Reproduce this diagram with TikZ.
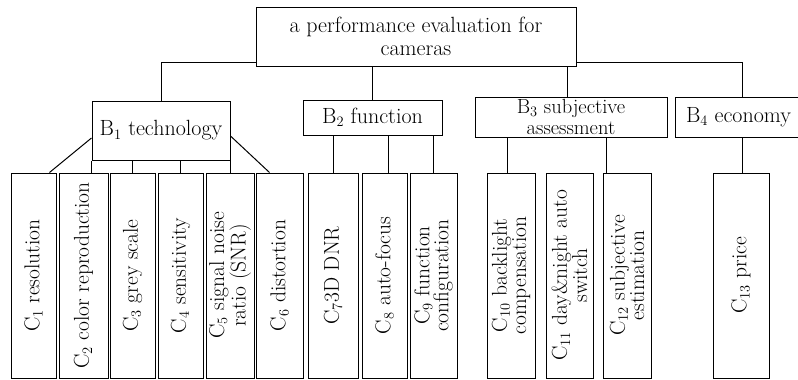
\documentclass[tikz,border=0pt]{standalone}
\usetikzlibrary{calc,positioning}
\usepackage{tikz}

\tikzset{
  box/.style={draw, line width=1pt, rectangle, inner sep=0pt, align=center, font=\fontsize{22}{22}\selectfont},
  cbox/.style={box, minimum height=205pt},
  ctext/.style={rotate=90, align=center, inner sep=0pt, font=\fontsize{21.5}{17.5}\selectfont}
}

\begin{document}
\begin{tikzpicture}[x=1pt, y=-1pt]
    \useasboundingbox (0,0) rectangle (798,380);
    \clip (0,0) rectangle (798,380);

    \node [box, minimum width=320pt, minimum height=59pt, font=\fontsize{22}{23}\selectfont] (top) at (416,36.5) {a performance evaluation for\\cameras};

    \node [box, minimum width=138pt, minimum height=59pt] (b1) at (161,130.5) {B$_1$ technology};
    \node [box, minimum width=139pt, minimum height=35pt] (b2) at (372.5,117.5) {B$_2$ function};
    \node [box, minimum width=192pt, minimum height=40pt, font=\fontsize{20.5}{21.5}\selectfont] (b3) at (571,117) {B$_3$ subjective\\assessment};
    \node [box, minimum width=127pt, minimum height=40pt] (b4) at (738.5,117) {B$_4$ economy};

    \node [cbox, minimum width=45pt] (c1) at (33.5,275.5) {};
    \node [cbox, minimum width=49pt] (c2) at (83.5,275.5) {};
    \node [cbox, minimum width=45pt] (c3) at (132.5,275.5) {};
    \node [cbox, minimum width=45pt] (c4) at (180.5,275.5) {};
    \node [cbox, minimum width=48pt] (c5) at (230,275.5) {};
    \node [cbox, minimum width=47pt] (c6) at (279.5,275.5) {};
    \node [cbox, minimum width=50pt] (c7) at (333,275.5) {};
    \node [cbox, minimum width=45pt] (c8) at (384.5,275.5) {};
    \node [cbox, minimum width=47pt] (c9) at (433.5,275.5) {};
    \node [cbox, minimum width=48pt] (c10) at (511,275.5) {};
    \node [cbox, minimum width=47pt] (c11) at (569.5,275.5) {};
    \node [cbox, minimum width=48pt] (c12) at (627,275.5) {};
    \node [cbox, minimum width=56pt] (c13) at (741,275.5) {};

    \node [ctext] (t1) at (c1) {C$_1$ resolution};
    \node [ctext] (t2) at (c2) {C$_2$ color reproduction};
    \node [ctext] (t3) at (c3) {C$_3$ grey scale};
    \node [ctext] (t4) at (c4) {C$_4$ sensitivity};
    \node [ctext] (t5) at (c5) {C$_5$ signal noise\\ratio (SNR)};
    \node [ctext] (t6) at (c6) {C$_6$ distortion};
    \node [ctext] (t7) at (c7) {C$_7$3D DNR};
    \node [ctext] (t8) at (c8) {C$_8$ auto-focus};
    \node [ctext] (t9) at (c9) {C$_9$ function\\configuration};
    \node [ctext] (t10) at (c10) {C$_{10}$ backlight\\compensation};
    \node [ctext] (t11) at (c11) {C$_{11}$ day\&night auto\\switch};
    \node [ctext] (t12) at (c12) {C$_{12}$ subjective\\estimation};
    \node [ctext] (t13) at (c13) {C$_{13}$ price};

    \draw [line width=1pt] ($(top.south west)+(0,-4)$) -| (b1.north);
    \draw [line width=1pt] (b2.north |- top.south) -- (b2.north);
    \draw [line width=1pt] ($(b3.north |- top.south)+(-4,0)$) -- ($(b3.north)+(-4,0)$);
    \draw [line width=1pt] ($(top.south east)+(0,-4)$) -| ($(b4.north)+(3.5,0)$);

    \draw [line width=1pt] ($(b1.west)+(0,7.5)$) -- ($(c1.north east)+(-7,0)$);
    \draw [line width=1pt] ($(b1.east)+(0,5.5)$) -- ($(c6.north west)+(14,0)$);
    \draw [line width=1pt] (b1.south west) -- (b1.south west |- c2.north);
    \draw [line width=1pt] (c3.north |- b1.south) -- (c3.north);
    \draw [line width=1pt] (c4.north |- b1.south) -- (c4.north);
    \draw [line width=1pt] (b1.south east) -- (b1.south east |- c5.north);

    \draw [line width=1pt] (c7.north |- b2.south) -- (c7.north);
    \draw [line width=1pt] ($(c8.north |- b2.south)+(3.5,0)$) -- ($(c8.north)+(3.5,0)$);
    \draw [line width=1pt] (c9.north |- b2.south) -- (c9.north);

    \draw [line width=1pt] ($(c10.north |- b3.south)+(-4,0)$) -- ($(c10.north)+(-4,0)$);
    \draw [line width=1pt] ($(c12.north west |- b3.south)+(4,0)$) -- ($(c12.north west)+(4,0)$);

    \draw [line width=1pt] ($(c13.north |- b4.south)+(1,0)$) -- ($(c13.north)+(1,0)$);
\end{tikzpicture}
\end{document}
